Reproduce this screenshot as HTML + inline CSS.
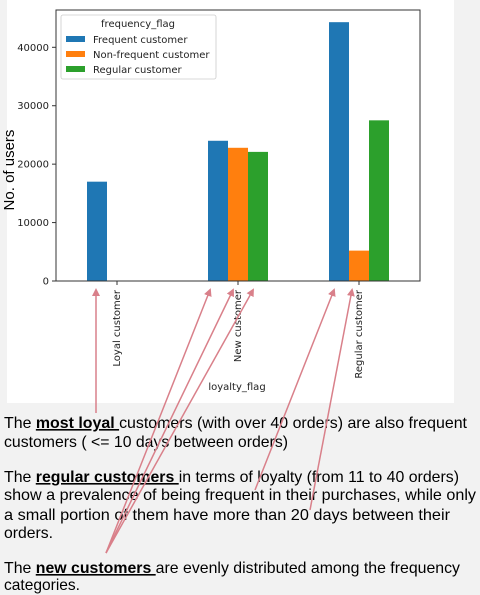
<!DOCTYPE html>
<html><head><meta charset="utf-8"><style>
html,body{margin:0;padding:0;background:#f2f2f2;}
svg{display:block;}
.tk{font-family:"DejaVu Sans","Liberation Sans",sans-serif;font-size:10px;fill:#222;}
.tx{font-family:"Liberation Sans",sans-serif;font-size:16px;fill:#000;}
.b{font-weight:bold;text-decoration:underline;}
</style></head><body>
<svg id="chart" width="480" height="595" viewBox="0 0 480 595" xmlns="http://www.w3.org/2000/svg">
<rect x="7" y="0" width="447" height="403" fill="#fff"/>
<g id="plot"></g>
<text transform="translate(14,170) rotate(-90)" text-anchor="middle" font-family="Liberation Sans, sans-serif" font-size="15" fill="#000">No. of users</text>
<text class="tk" x="237" y="390" text-anchor="middle">loyalty_flag</text>
<g>
<rect x="61" y="15" width="155" height="64" rx="2" fill="#fff" stroke="#ccc" stroke-width="0.8"/>
<text class="tk" x="138" y="27" text-anchor="middle">frequency_flag</text>
<rect x="66" y="36" width="19" height="6" fill="#1f77b4"/><text class="tk" x="93" y="43">Frequent customer</text>
<rect x="66" y="51" width="19" height="6" fill="#ff7f0e"/><text class="tk" x="93" y="58">Non-frequent customer</text>
<rect x="66" y="66" width="19" height="6" fill="#2ca02c"/><text class="tk" x="93" y="73">Regular customer</text>
</g>
<g>
<text class="tx" x="4" y="428" textLength="463" lengthAdjust="spacingAndGlyphs">The <tspan class="b">most loyal </tspan>customers (with over 40 orders) are also frequent</text>
<text class="tx" x="4" y="447" textLength="284" lengthAdjust="spacingAndGlyphs">customers ( &lt;= 10 days between orders)</text>
<text class="tx" x="4" y="482" textLength="455" lengthAdjust="spacingAndGlyphs">The <tspan class="b">regular customers </tspan>in terms of loyalty (from 11 to 40 orders)</text>
<text class="tx" x="4" y="500" textLength="472" lengthAdjust="spacingAndGlyphs">show a prevalence of being frequent in their purchases, while only</text>
<text class="tx" x="4" y="520" textLength="446" lengthAdjust="spacingAndGlyphs">a small portion of them have more than 20 days between their</text>
<text class="tx" x="4" y="538" textLength="49" lengthAdjust="spacingAndGlyphs">orders.</text>
<text class="tx" x="4" y="573" textLength="456" lengthAdjust="spacingAndGlyphs">The <tspan class="b">new customers </tspan>are evenly distributed among the frequency</text>
<text class="tx" x="4" y="590" textLength="76" lengthAdjust="spacingAndGlyphs">categories.</text>
</g>
<defs><marker id="ah" markerWidth="8" markerHeight="8" refX="6" refY="4" orient="auto" markerUnits="userSpaceOnUse"><path d="M0,0 L8,4 L0,8 Z" fill="#d9808a"/></marker></defs>
<g stroke="#d9808a" stroke-width="1.5" marker-end="url(#ah)">
<line x1="96" y1="413" x2="96" y2="290"/>
<line x1="106" y1="553" x2="210" y2="290"/>
<line x1="106" y1="553" x2="233" y2="290"/>
<line x1="106" y1="553" x2="253" y2="290"/>
<line x1="255" y1="490" x2="334" y2="290"/>
<line x1="310" y1="510" x2="352" y2="290"/>
</g>
</svg>
<script>
const categories=["Loyal customer","New customer","Regular customer"];
const frequent=[17000,24000,44300];
const nonFrequent=[0,22800,5200];
const regular=[0,22100,27500];
const yTicks=[0,10000,20000,30000,40000];
const NS="http://www.w3.org/2000/svg";
const g=document.getElementById('plot');
const L=56,R=420,T=10,B=281;
const y=v=>B-v*(B-47.3)/40000;
const x=i=>117+i*121;
function mk(t,a){const e=document.createElementNS(NS,t);for(const k in a)e.setAttribute(k,a[k]);g.appendChild(e);return e;}
const series=[[frequent,"#1f77b4","frequent"],[nonFrequent,"#ff7f0e","non-frequent"],[regular,"#2ca02c","regular"]];
series.forEach((s,si)=>{s[0].forEach((v,i)=>{if(v<=0)return;
const r=mk('rect',{x:x(i)-30+si*20,y:y(v),width:20,height:B-y(v),fill:s[1]});

});});
const fr=mk('rect',{x:L,y:T,width:R-L,height:B-T,fill:'none',stroke:'#333','stroke-width':1});


yTicks.forEach(v=>{mk('line',{x1:L-4,x2:L,y1:y(v),y2:y(v),stroke:'#333'});
const t=mk('text',{x:L-7,y:y(v)+3.5,'text-anchor':'end',class:'tk'});t.textContent=v;

});
categories.forEach((c,i)=>{mk('line',{x1:x(i),x2:x(i),y1:B,y2:B+4,stroke:'#333'});
const t=mk('text',{transform:`translate(${x(i)+3},${B+9}) rotate(-90)`,'text-anchor':'end',class:'tk'});t.textContent=c;

});
</script>
</body></html>
